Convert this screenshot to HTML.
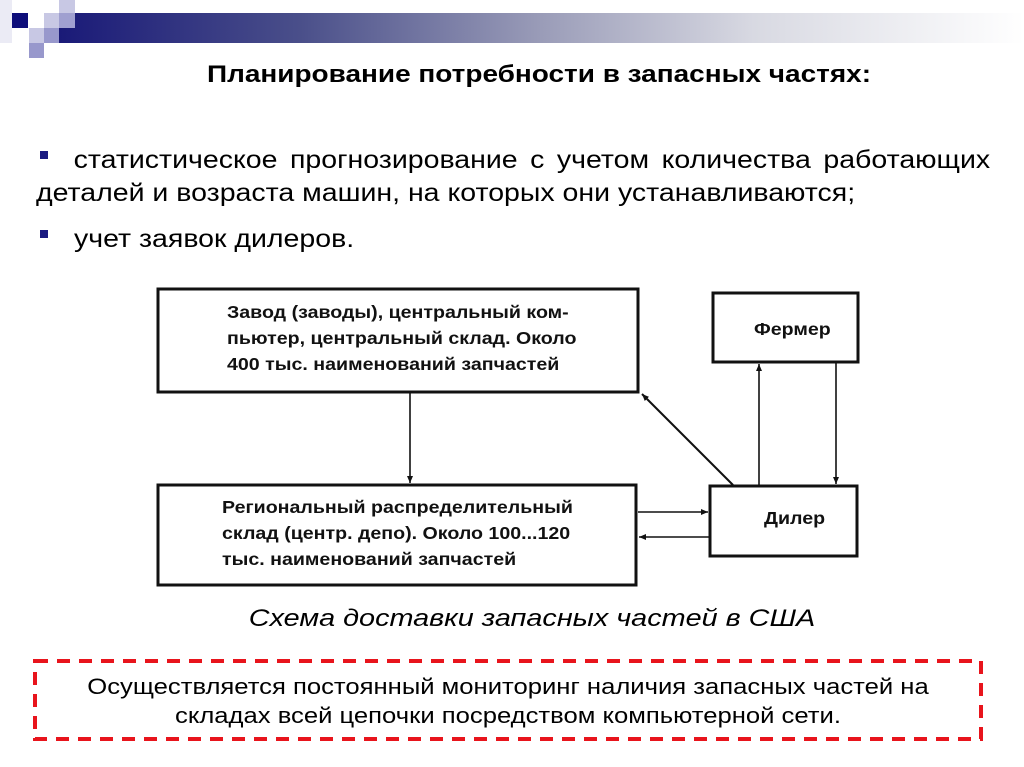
<!DOCTYPE html>
<html><head><meta charset="utf-8"><style>
body{margin:0;width:1024px;height:767px;background:#fff;position:relative;overflow:hidden;font-family:"Liberation Sans","Noto Sans CJK SC",sans-serif;}
.a{position:absolute}
.bar{left:59px;top:13px;width:965px;height:30px;background:linear-gradient(to right,#1a1a78 0%,#4a4f8a 25%,#9a9cb8 50%,#d8d9e2 72%,#fff 100%);}
.t{color:#000}
.dg{font-family:"Liberation Sans",sans-serif;font-weight:bold;font-size:17.5px;line-height:26px;color:#111;transform:scaleX(1.12);transform-origin:left top;white-space:nowrap}
</style></head><body>
<div class="a bar"></div>
<div class="a" style="left:12px;top:13px;width:16px;height:15px;background:#0e0e7a"></div>
<div class="a" style="left:0;top:0;width:12px;height:43px;background:#ebebf5"></div>
<div class="a" style="left:44px;top:13px;width:15px;height:15px;background:#c8c8e4"></div>
<div class="a" style="left:59px;top:0;width:16px;height:13px;background:#c8c8e4"></div>
<div class="a" style="left:59px;top:13px;width:16px;height:15px;background:#a0a0d0"></div>
<div class="a" style="left:29px;top:28px;width:15px;height:15px;background:#c8c8e4"></div>
<div class="a" style="left:44px;top:28px;width:15px;height:15px;background:#9898cc"></div>
<div class="a" style="left:29px;top:43px;width:15px;height:15px;background:#9898cc"></div>

<div class="a t" style="left:27px;width:1024px;top:61px;text-align:center;font-weight:bold;font-size:24px;transform:scaleX(1.165);transform-origin:512px 0">Планирование потребности в запасных частях:</div>
<div class="a" style="left:40px;top:151px;width:8px;height:8px;background:#1a1a80"></div>
<div class="a t" style="left:36px;top:144px;width:837px;font-size:25px;line-height:33px;text-indent:33px;text-align:justify;transform:scaleX(1.14);transform-origin:0 0">статистическое прогнозирование с учетом количества работающих деталей и возраста машин, на которых они устанавливаются;</div>
<div class="a" style="left:40px;top:230px;width:8px;height:8px;background:#1a1a80"></div>
<div class="a t" style="left:74px;top:223px;font-size:25px;line-height:33px;transform:scaleX(1.14);transform-origin:0 0">учет заявок дилеров.</div>

<svg class="a" style="left:0;top:0" width="1024" height="767">
<defs><marker id="m" markerWidth="8" markerHeight="8" refX="7" refY="4" orient="auto" markerUnits="userSpaceOnUse"><path d="M0,1 L7,4 L0,7 z" fill="#111"/></marker></defs>
<g fill="none" stroke="#111" stroke-width="3">
<rect x="158" y="289" width="480" height="103"/>
<rect x="713" y="293" width="145" height="69"/>
<rect x="710" y="486" width="147" height="70"/>
<rect x="158" y="485" width="478" height="100"/>
</g>
<g stroke="#111" stroke-width="1.6" fill="none">
<line x1="410" y1="393" x2="410" y2="483" marker-end="url(#m)"/>
<line x1="733" y1="485" x2="642" y2="394" stroke-width="2" marker-end="url(#m)"/>
<line x1="759" y1="485" x2="759" y2="364" marker-end="url(#m)"/>
<line x1="836" y1="363" x2="836" y2="484" marker-end="url(#m)"/>
<line x1="638" y1="512" x2="708" y2="512" marker-end="url(#m)"/>
<line x1="709" y1="537" x2="639" y2="537" marker-end="url(#m)"/>
</g>
<rect x="35" y="661" width="946" height="78" fill="none" stroke="#e8141c" stroke-width="4" stroke-dasharray="13,9"/>
</svg>

<div class="a dg" style="left:227px;top:299px">Завод (заводы), центральный ком-<br>пьютер, центральный склад. Около<br>400 тыс. наименований запчастей</div>
<div class="a dg" style="left:754px;top:316px">Фермер</div>
<div class="a dg" style="left:222px;top:494px">Региональный распределительный<br>склад (центр. депо). Около 100...120<br>тыс. наименований запчастей</div>
<div class="a dg" style="left:764px;top:505px">Дилер</div>

<div class="a t" style="left:20px;width:1024px;top:605px;text-align:center;font-style:italic;font-size:24px;transform:scaleX(1.2);transform-origin:512px 0">Схема доставки запасных частей в США</div>
<div class="a t" style="left:35px;width:946px;top:672px;text-align:center;font-size:22px;line-height:29px;transform:scaleX(1.165);transform-origin:473px 0">Осуществляется постоянный мониторинг наличия запасных частей на<br>складах всей цепочки посредством компьютерной сети.</div>
</body></html>
